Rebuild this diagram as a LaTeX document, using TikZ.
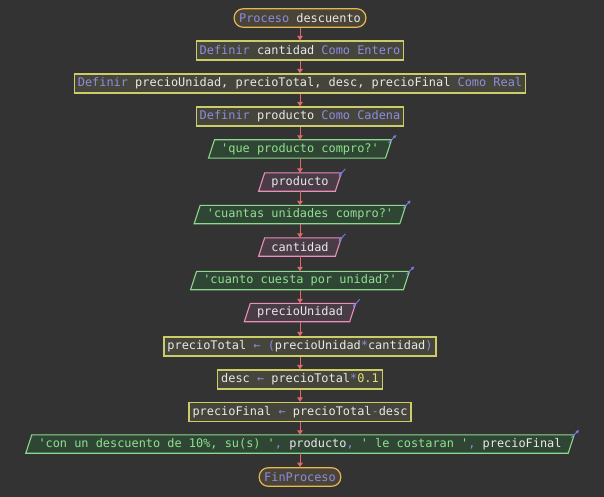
\documentclass[tikz,border=0pt]{standalone}
\usepackage{fontspec}
\setmonofont{DejaVu Sans Mono}
\usetikzlibrary{arrows.meta,backgrounds}

\definecolor{bgc}{HTML}{333333}
\definecolor{kwc}{HTML}{8C8CE0}
\definecolor{idc}{HTML}{E8E8E8}
\definecolor{strc}{HTML}{90E090}
\definecolor{numc}{HTML}{E0E078}
\definecolor{procline}{HTML}{CCCC68}
\definecolor{procfill}{HTML}{45453B}
\definecolor{outline}{HTML}{8CD88C}
\definecolor{outfill}{HTML}{2F4634}
\definecolor{inline}{HTML}{E890B8}
\definecolor{infill}{HTML}{4A3C46}
\definecolor{termline}{HTML}{E8B850}
\definecolor{termfill}{HTML}{4A4438}
\definecolor{flowc}{HTML}{E06868}
\definecolor{ioc}{HTML}{7A7AE6}

\newcommand{\pkw}[1]{\textcolor{kwc}{#1}}
\newcommand{\pnum}[1]{\textcolor{numc}{#1}}

% slanted box drawn around a named text node
\newcommand{\slantbox}[3]{%
  \path[draw=#2, fill=#3, line width=1.1pt, line join=miter]
    ([xshift=-3pt]#1.south west) -- ([xshift=3pt]#1.north west)
    -- ([xshift=3pt]#1.north east) -- ([xshift=-3pt]#1.south east) -- cycle;}

\tikzset{
  procbox/.style={rectangle, draw=procline, fill=procfill, line width=1.2pt,
    inner xsep=3.5pt, inner ysep=0pt, minimum height=19pt, text=idc},
  iobox/.style={rectangle, inner xsep=9.5pt, inner ysep=0pt, minimum height=18pt},
  outbox/.style={iobox, text=strc},
  inbox/.style={iobox, text=idc},
  termbox/.style={rectangle, rounded corners=9pt, draw=termline, fill=termfill,
    line width=1.2pt, inner xsep=5pt, inner ysep=0pt, minimum height=18.5pt, text=idc},
  flow/.style={draw=flowc, line width=1pt, -{Triangle[length=4.5pt,width=5.5pt]}},
  iomark/.style={draw=ioc, line width=0.9pt, -{Latex[length=3.5pt,width=3.5pt]}}
}

\begin{document}
\begin{tikzpicture}[x=1pt, y=-1pt, font=\ttfamily\fontsize{11.9}{14}\selectfont]
  \useasboundingbox (0,0) rectangle (604,497);

  % flowchart steps, top to bottom
  \node[termbox] (start) at (300,18)    {\pkw{Proceso} descuento};
  \node[procbox] (def1)  at (300,50.5)  {\pkw{Definir} cantidad \pkw{Como Entero}};
  \node[procbox] (def2)  at (300,83.5)  {\pkw{Definir} precioUnidad, precioTotal, desc, precioFinal \pkw{Como Real}};
  \node[procbox] (def3)  at (300,116.5) {\pkw{Definir} producto \pkw{Como Cadena}};
  \node[outbox]  (out1)  at (300,149)   {'que producto compro?'};
  \node[inbox]   (in1)   at (300,182)   {producto};
  \node[outbox]  (out2)  at (300,214.5) {'cuantas unidades compro?'};
  \node[inbox]   (in2)   at (300,247)   {cantidad};
  \node[outbox]  (out3)  at (300,280.5) {'cuanto cuesta por unidad?'};
  \node[inbox]   (in3)   at (300,312.5) {precioUnidad};
  \node[procbox] (asg1)  at (300,346.5) {precioTotal \pkw{← (}precioUnidad\pkw{*}cantidad\pkw{)}};
  \node[procbox] (asg2)  at (300,379.5) {desc \pkw{←} precioTotal\pkw{*}\pnum{0.1}};
  \node[procbox] (asg3)  at (300,412)   {precioFinal \pkw{←} precioTotal\pkw{-}desc};
  \node[outbox]  (out4)  at (300,444)   {'con un descuento de 10\%, su(s) '\pkw{,} \textcolor{idc}{producto}\pkw{,} ' le costaran '\pkw{,} \textcolor{idc}{precioFinal}};
  \node[termbox] (stop)  at (300,477)   {\pkw{FinProceso}};

  % backdrop and slanted input/output boxes, behind the texts
  \begin{scope}[on background layer]
    \fill[bgc] (0,0) rectangle (604,497);
    \foreach \n in {out1, out2, out3, out4} { \slantbox{\n}{outline}{outfill} }
    \foreach \n in {in1, in2, in3} { \slantbox{\n}{inline}{infill} }
  \end{scope}

  % connectors
  \foreach \a/\b in {start/def1, def1/def2, def2/def3, def3/out1, out1/in1,
                     in1/out2, out2/in2, in2/out3, out3/in3, in3/asg1,
                     asg1/asg2, asg2/asg3, asg3/out4, out4/stop}
    \draw[flow] (\a) -- (\b);

  % output markers
  \foreach \n in {out1, out2, out3, out4}
    \draw[iomark] ([shift={(0,3)}]\n.north east) -- ++(8,-8);
  % input markers
  \foreach \n in {in1, in2, in3}
    \draw[iomark] ([shift={(7,-4)}]\n.north east) -- ++(-7,8);
\end{tikzpicture}
\end{document}
